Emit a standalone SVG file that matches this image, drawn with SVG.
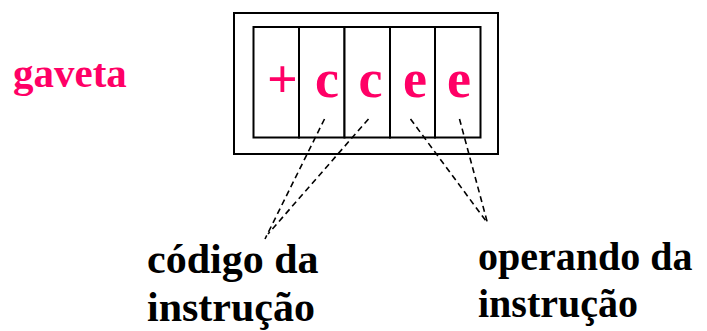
<svg xmlns="http://www.w3.org/2000/svg" width="707" height="331" viewBox="0 0 707 331">
  <style>
    .frame { fill: none; stroke: #000; stroke-width: 2; }
    .cell { fill: #fff; stroke: #000; stroke-width: 2; }
    text { font-family: 'Liberation Serif', 'Times New Roman', Times, 'DejaVu Serif', serif; font-weight: 700; }
    .digit { font-size: 54px; fill: #ff0066; text-anchor: middle; }
    .pink { fill: #ff0066; }
    .lead { fill: none; stroke: #000; stroke-width: 1.6; stroke-dasharray: 6 4; }
  </style>
  <rect width="707" height="331" fill="#fff"/>

  <!-- drawer: outer frame with five digit cells -->
  <g id="gaveta">
    <rect class="frame" x="234" y="13" width="264" height="141"/>
    <rect class="cell" x="253.5" y="27" width="45.5" height="110.5"/>
    <rect class="cell" x="299" y="27" width="45.5" height="110.5"/>
    <rect class="cell" x="344.5" y="27" width="45.5" height="110.5"/>
    <rect class="cell" x="390" y="27" width="45" height="110.5"/>
    <rect class="cell" x="435" y="27" width="45.5" height="110.5"/>
    <text class="digit" x="282.5" y="97">+</text>
    <text class="digit" x="327" y="97">c</text>
    <text class="digit" x="370.5" y="97">c</text>
    <text class="digit" x="415" y="97">e</text>
    <text class="digit" x="459" y="97">e</text>
  </g>

  <g id="gaveta-label">
    <text class="pink" x="13" y="87" font-size="41">gaveta</text>
  </g>

  <!-- dashed leaders from cells to captions -->
  <g id="connectors">
    <line class="lead" x1="324.5" y1="119" x2="265" y2="239"/>
    <line class="lead" x1="368.5" y1="119" x2="268" y2="234"/>
    <line class="lead" x1="410.5" y1="119" x2="487.5" y2="223"/>
    <line class="lead" x1="459.5" y1="119" x2="487.5" y2="223"/>
  </g>

  <g id="codigo">
    <text x="147" y="273" font-size="42">código da</text>
    <text x="147" y="321" font-size="42">instrução</text>
  </g>

  <g id="operando">
    <text x="478" y="270" font-size="40">operando da</text>
    <text x="478" y="317" font-size="40">instrução</text>
  </g>
</svg>
